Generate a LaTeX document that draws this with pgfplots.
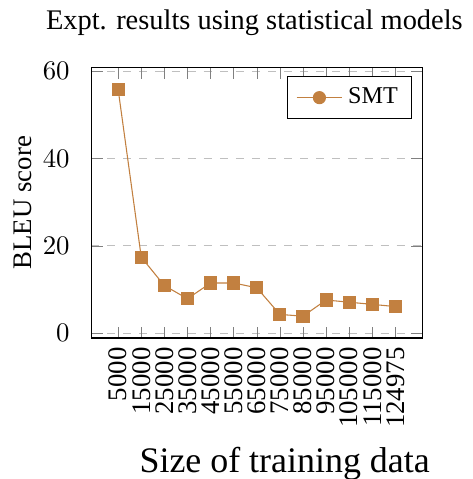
\documentclass[border=0pt]{standalone}
\usepackage{pgfplots}
\pgfplotsset{compat=1.18}
\usepackage{fontspec}
\setmainfont{Liberation Serif}
\definecolor{smt}{RGB}{194,128,64}
\begin{document}
\begin{tikzpicture}
\begin{axis}[
  scale only axis,
  width=123.6pt, height=101pt,
  title={Expt. results using statistical models},
  title style={font=\fontsize{10.6}{13}\selectfont, at={(axis description cs:0.5,1)}, anchor=base, yshift=8.2pt, xshift=-0.9pt},
  xlabel={Size of training data},
  xlabel style={font=\fontsize{13.4}{16}\selectfont, at={(axis description cs:0.5,0)}, anchor=base, yshift=-50pt, xshift=10.4pt},
  ylabel={BLEU score},
  ylabel style={at={(axis description cs:-0.18,0.5)}, anchor=base},
  xmin=-1.17, xmax=13.17,
  ymin=-1.1, ymax=60.9,
  xtick={0,...,12},
  xticklabels={5000,15000,25000,35000,45000,55000,65000,75000,85000,95000,105000,115000,124975},
  xticklabel style={rotate=90, anchor=east},
  ytick={0,20,40,60},
  yticklabel style={xshift=-4.5pt},
  ymajorgrids=true,
  grid style={dashed, gray!50},
  legend style={font=\fontsize{9}{11}\selectfont, at={(1,1)}, anchor=north east, xshift=-4pt, yshift=-3.4pt},
]
\addplot[color=smt, mark=square*, mark size=2.25pt, mark options={fill=smt}, forget plot] coordinates {
(0,55.8) (1,17.4) (2,10.9) (3,7.9) (4,11.5) (5,11.5) (6,10.4) (7,4.3) (8,3.9) (9,7.6) (10,7.1) (11,6.6) (12,6.1)
};
\addlegendimage{color=smt, mark=*, mark size=2.25pt, mark options={fill=smt}}
\addlegendentry{SMT}
\end{axis}
\pgfresetboundingbox
\path[use as bounding box] ([xshift=-34pt,yshift=-52.6pt]current axis.south west) rectangle ([xshift=18.6pt,yshift=25.1pt]current axis.north east);
\end{tikzpicture}
\end{document}
